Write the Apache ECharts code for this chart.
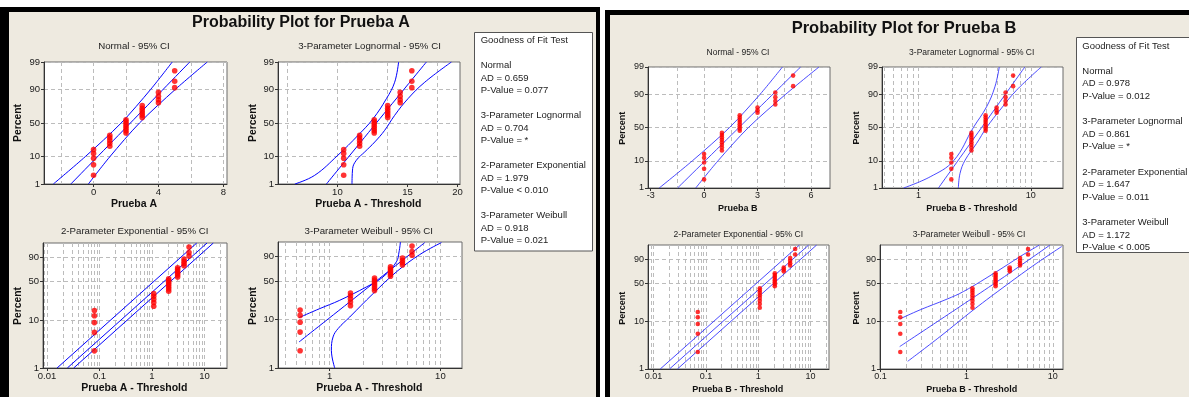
<!DOCTYPE html>
<html><head><meta charset="utf-8">
<script src="https://cdn.jsdelivr.net/npm/echarts@6/dist/echarts.min.js"></script>
<style>
html,body{margin:0;padding:0;background:#fff;}
#wrap{position:relative;width:1189px;height:397px;overflow:hidden;background:#fff;}
.frame{position:absolute;background:#000;}
.inner{position:absolute;background:#eeeae0;}
#chart{position:absolute;left:0;top:0;width:1189px;height:397px;}
</style></head>
<body>
<div id="wrap">
 <div class="frame" style="left:0;top:7px;width:600px;height:400px"></div>
 <div class="inner" style="left:9px;top:12px;width:587px;height:400px"></div>
 <div class="frame" style="left:605px;top:10px;width:600px;height:400px"></div>
 <div class="inner" style="left:610px;top:15px;width:600px;height:400px"></div>
 <div id="chart"></div>
</div>
<script>
// ---------------- data ----------------
const pruebaA = [0,0,0,0,0,1,1,1,1,1,2,2,2,2,2,2,2,3,3,3,3,3,3,4,4,4,4,5,5,5];
const pruebaB = [0,0,0,0,0,1,1,1,1,1,1,1,1,2,2,2,2,2,2,2,2,3,3,3,4,4,4,4,5,5];
// shifts of the "- Threshold" axes
const shiftA = {logn: 10.37, exp: 0.08, wbl: 0.54};
const shiftB = {logn: 1.96, exp: 0.07, wbl: 0.17};

const pctTicksNorm = [1,10,50,90,99];
const pctTicksExp = [1,10,50,90];

const xLabNormA = [0,4,8],  xGridNormA = [-2,0,2,4,6,8];
const xLabNormB = [-3,0,3,6], xGridNormB = [-1.5,0,1.5,3,4.5,6];
const xLabLognA = [10,15,20], xGridLognA = [7.499,10,13.335,17.783];
const xLabLognB = [1,10];
const xLabExp = [0.01,0.1,1,10];
const xLabWblA = [1,10];
const xLabWblB = [0.1,1,10];

// fitted lines and 95% CI curves: [x, percent]
const normA_fit = [[-1.40,1],[2.27,50],[5.93,99]];
const normA_lo  = [[-2.48,1],[-0.51,10],[1.70,50],[3.52,90],[4.85,99]];
const normA_hi  = [[-0.32,1],[1.01,10],[2.83,50],[5.04,90],[7.01,99]];
const lognA_fit = [[9.385,1],[12.52,50],[16.72,99]];
const lognA_lo  = [[7.82,1],[8.77,2.3],[10.03,11],[11.27,32],[12.29,56.5],[13.27,82.3],[13.92,94],[14.24,99]];
const lognA_hi  = [[10.88,1],[10.92,4.1],[11.16,7.8],[11.71,13.5],[12.41,23.5],[13.14,39],[13.92,61.5],[15.03,82.3],[16.56,94],[19.32,99]];
const expA_fit  = [[0.0244,1],[11.18,99]];
const expA_lo   = [[0.01555,1],[7.12,99]];
const expA_hi   = [[0.0322,1],[14.75,99]];
const wblA_fit  = [[0.528,3.5],[7.22,98.85]];
const wblA_lo   = [[0.528,11.0],[0.812,16.5],[1.231,23.7],[2.144,40.4],[3.03,56.9],[4.00,82.6],[4.23,94.2],[4.35,99]];
const wblA_hi   = [[1.11,1],[1.035,2.35],[1.072,4.45],[1.19,6.6],[1.516,11.3],[2.464,31.2],[4.00,65.9],[6.51,91.8],[10.2,98.85]];

const normB_fit = [[-1.49,1],[1.96,50],[5.42,99]];
const normB_lo  = [[-2.52,1],[-0.66,10],[1.43,50],[3.15,90],[4.40,99]];
const normB_hi  = [[-0.47,1],[0.78,10],[2.49,50],[4.59,90],[6.45,99]];
const lognB_fit = [[1.505,1],[3.65,50],[8.85,99]];
const lognB_lo  = [[0.736,1],[1.27,2.9],[2.05,10],[3.08,50],[4.04,78.7],[4.79,94.1],[5.24,99]];
const lognB_hi  = [[2.265,1],[2.34,3.8],[2.60,10.5],[3.29,27],[4.04,50],[5.31,74.8],[7.46,92.4],[12.4,99]];
const expB_fit  = [[0.0201,1],[9.2,99]];
const expB_lo   = [[0.0134,1],[6.14,99]];
const expB_hi   = [[0.0285,1],[13.05,99]];
const wblB_fit  = [[0.1675,3.0],[2.188,51.5],[9.31,99]];
const wblB_lo   = [[0.1675,11.2],[0.290,17.1],[0.592,27.2],[0.923,37.1],[2.244,71.2],[4.18,92.6],[7.01,99]];
const wblB_hi   = [[0.2075,1.46],[0.495,4.9],[1.205,17.1],[2.93,47.5],[6.53,84.7],[12.7,98.6]];

const gofA = ['Goodness of Fit Test','','Normal','AD = 0.659','P-Value = 0.077','','3-Parameter Lognormal','AD = 0.704','P-Value = *','','2-Parameter Exponential','AD = 1.979','P-Value < 0.010','','3-Parameter Weibull','AD = 0.918','P-Value = 0.021'];
const gofB = ['Goodness of Fit Test','','Normal','AD = 0.978','P-Value = 0.012','','3-Parameter Lognormal','AD = 0.861','P-Value = *','','2-Parameter Exponential','AD = 1.647','P-Value = 0.011','','3-Parameter Weibull','AD = 1.172','P-Value < 0.005'];

// ---------------- helpers ----------------
function invNorm(p){
 const a=[-3.969683028665376e+01,2.209460984245205e+02,-2.759285104469687e+02,1.383577518672690e+02,-3.066479806614716e+01,2.506628277459239e+00];
 const b=[-5.447609879822406e+01,1.615858368580409e+02,-1.556989798598866e+02,6.680131188771972e+01,-1.328068155288572e+01];
 const c=[-7.784894002430293e-03,-3.223964580411365e-01,-2.400758277161838e+00,-2.549671010243283e+00,4.374664141464968e+00,2.938163982698783e+00];
 const d=[7.784695709041462e-03,3.224671290700398e-01,2.445134137142996e+00,3.754408661907416e+00];
 const pl=0.02425; let q,r;
 if(p<pl){q=Math.sqrt(-2*Math.log(p));return (((((c[0]*q+c[1])*q+c[2])*q+c[3])*q+c[4])*q+c[5])/((((d[0]*q+d[1])*q+d[2])*q+d[3])*q+1);}
 if(p<=1-pl){q=p-0.5;r=q*q;return (((((a[0]*r+a[1])*r+a[2])*r+a[3])*r+a[4])*r+a[5])*q/(((((b[0]*r+b[1])*r+b[2])*r+b[3])*r+b[4])*r+1);}
 q=Math.sqrt(-2*Math.log(1-p));return -(((((c[0]*q+c[1])*q+c[2])*q+c[3])*q+c[4])*q+c[5])/((((d[0]*q+d[1])*q+d[2])*q+d[3])*q+1);
}
function decades(lo,hi){const out=[];for(let k=-3;k<=2;k++)for(let m=1;m<=9;m++){const v=+(m*Math.pow(10,k)).toPrecision(6);if(v>=lo&&v<=hi)out.push(v);}return out;}

const FF = 'Liberation Sans, Arial, sans-serif';
const plots = [
 {g:[44,62,183,122], xlog:false, xr:[-3.055,8.225], xg:xGridNormA, xl:xLabNormA, yk:'norm', data:pruebaA, off:0, lines:[normA_lo,normA_fit,normA_hi], sm:0.3,
  title:'Normal - 95% CI', tp:[134,46.7], xn:'Prueba A', xnp:[134,204], pp:[18.3,123], big:true},
 {g:[278,62,182,122], xlog:true, xr:[7.096,20.30], xg:xGridLognA, xl:xLabLognA, yk:'norm', data:pruebaA, off:shiftA.logn, lines:[lognA_lo,lognA_fit,lognA_hi], sm:0.4,
  title:'3-Parameter Lognormal - 95% CI', tp:[369.5,46.7], xn:'Prueba A - Threshold', xnp:[368.3,204], pp:[253.3,123], big:true},
 {g:[43,243,184,125], xlog:true, xr:[0.00839,26.85], xg:decades(0.00839,26.85), xl:xLabExp, yk:'wbl', data:pruebaA, off:shiftA.exp, lines:[expA_lo,expA_fit,expA_hi], sm:0,
  title:'2-Parameter Exponential - 95% CI', tp:[134.7,231.7], xn:'Prueba A - Threshold', xnp:[134.3,388.3], pp:[18.3,306], big:true},
 {g:[278,242,184,126], xlog:true, xr:[0.341,15.67], xg:decades(0.341,15.67), xl:xLabWblA, yk:'wbl', data:pruebaA, off:shiftA.wbl, lines:[wblA_lo,wblA_fit,wblA_hi], sm:0.4,
  title:'3-Parameter Weibull - 95% CI', tp:[368.8,231], xn:'Prueba A - Threshold', xnp:[369.3,387.7], pp:[253.3,306], big:true},
 {g:[648,67,182,121], xlog:false, xr:[-3.15,7.07], xg:xGridNormB, xl:xLabNormB, yk:'norm', data:pruebaB, off:0, lines:[normB_lo,normB_fit,normB_hi], sm:0.3,
  title:'Normal - 95% CI', tp:[738,52.7], xn:'Prueba B', xnp:[737.7,208.3], pp:[622.7,128.3], big:false},
 {g:[882,67,181,121], xlog:true, xr:[0.473,19.36], xg:decades(0.473,19.36), xl:xLabLognB, yk:'norm', data:pruebaB, off:shiftB.logn, lines:[lognB_lo,lognB_fit,lognB_hi], sm:0.4,
  title:'3-Parameter Lognormal - 95% CI', tp:[971.7,52.7], xn:'Prueba B - Threshold', xnp:[971.7,208.3], pp:[856.7,128], big:false},
 {g:[648,245,181,124], xlog:true, xr:[0.00782,22.49], xg:decades(0.00782,22.49), xl:xLabExp, yk:'wbl', data:pruebaB, off:shiftB.exp, lines:[expB_lo,expB_fit,expB_hi], sm:0,
  title:'2-Parameter Exponential - 95% CI', tp:[738.3,235], xn:'Prueba B - Threshold', xnp:[737.7,390], pp:[622.7,308.3], big:false},
 {g:[880,245,183,124], xlog:true, xr:[0.0989,13.15], xg:decades(0.0989,13.15), xl:xLabWblB, yk:'wbl', data:pruebaB, off:shiftB.wbl, lines:[wblB_lo,wblB_fit,wblB_hi], sm:0.4,
  title:'3-Parameter Weibull - 95% CI', tp:[969,235], xn:'Prueba B - Threshold', xnp:[971.7,390], pp:[856.7,308], big:false}
];

const option = {animation:false, backgroundColor:'transparent', textStyle:{fontFamily:FF}, grid:[], xAxis:[], yAxis:[], series:[], graphic:[]};
const gridLine = {show:true, lineStyle:{color:'#bcbcbc', type:[4,3], width:1}};
const axLine = {show:true, onZero:false, lineStyle:{color:'#333', width:1}};

function txt(text,x,y,size,bold,color,rot){
 option.graphic.push({type:'text', x:x, y:y, rotation:rot||0, z:100,
  style:{text:text, fontSize:size, fontWeight:bold?'bold':'normal', fontFamily:FF, fill:color||'#111',
   textAlign:'center', textVerticalAlign:'middle', align:'center', verticalAlign:'middle'}});
}

plots.forEach((p,i)=>{
 const [l,t,w,h] = p.g;
 const xf = p.xlog ? (v=>Math.log10(v)) : (v=>v);
 const yf = p.yk==='norm' ? (q=>invNorm(q/100)) : (q=>Math.log(-Math.log(1-q/100)));
 const fs = p.big ? 9.5 : 9;
 option.grid.push({left:l, top:t, width:w, height:h, show:true, backgroundColor:'#fff', borderColor:'#6a6a6a', borderWidth:1, containLabel:false, outerBoundsMode:'none'});
 const xmin = xf(p.xr[0]), xmax = xf(p.xr[1]);
 const xlv = p.xl.map(xf);
 // axis for the grid lines
 option.xAxis.push({gridIndex:i, type:'value', min:xmin, max:xmax, position:'bottom',
  axisLine:axLine, axisTick:{show:false, customValues:p.xg.map(xf)}, axisLabel:{show:false}, splitLine:gridLine});
 // axis for the labels
 option.xAxis.push({gridIndex:i, type:'value', min:xmin, max:xmax, position:'bottom',
  axisLine:{show:false, onZero:false}, axisTick:{show:true, customValues:xlv, length:3, lineStyle:{color:'#333'}},
  axisLabel:{show:true, customValues:xlv, margin:3, fontSize:fs, color:'#1a1a1a', fontFamily:FF, hideOverlap:false,
   formatter:(v)=>{let bi=0,bd=1e9;xlv.forEach((u,k)=>{const d=Math.abs(u-v);if(d<bd){bd=d;bi=k;}});return String(p.xl[bi]);}},
  splitLine:{show:false}});
 const pt = p.yk==='norm' ? pctTicksNorm : pctTicksExp;
 const ytv = pt.map(yf);
 option.yAxis.push({gridIndex:i, type:'value', min:yf(1), max:yf(99),
  axisLine:axLine, axisTick:{show:true, customValues:ytv, length:3, lineStyle:{color:'#333'}},
  axisLabel:{show:true, customValues:ytv, margin:4, fontSize:fs, color:'#1a1a1a', fontFamily:FF,
   formatter:(v)=>{let bi=0,bd=1e9;ytv.forEach((u,k)=>{const d=Math.abs(u-v);if(d<bd){bd=d;bi=k;}});return String(pt[bi]);}},
  splitLine:gridLine});
 // points with median-rank plotting positions
 const n = p.data.length;
 const sorted = p.data.slice().sort((a,b)=>a-b);
 const pts = sorted.map((v,k)=>[xf(v+p.off), yf((k+1-0.3)/(n+0.4)*100)]);
 p.lines.forEach(arr=>{
  option.series.push({type:'line', xAxisIndex:2*i, yAxisIndex:i, data:arr.map(([x,q])=>[xf(x),yf(q)]),
   symbol:'none', smooth:p.sm||false, clip:true, silent:true, z:2,
   lineStyle:{color:p.big?'#0000ff':'#3535ff', width:p.big?1:0.9}});
 });
 option.series.push({type:'scatter', xAxisIndex:2*i, yAxisIndex:i, data:pts, symbol:'circle', symbolSize:p.big?5.6:4.6,
  itemStyle:{color:'#ff0000'}, silent:true, z:3, clip:false});
 txt(p.title, p.tp[0], p.tp[1], p.big?9.7:8.5, false, '#222');
 txt(p.xn, p.xnp[0], p.xnp[1], p.big?10.5:9, true, '#111');
 txt('Percent', p.pp[0], p.pp[1], p.big?10.3:9, true, '#111', Math.PI/2);
});

// main titles
txt('Probability Plot for Prueba A', 301, 23, 16, true, '#111');
txt('Probability Plot for Prueba B', 904, 28, 16.5, true, '#111');

// goodness of fit boxes
function gofBox(lines,x,y,w,h,tx,ty,step){
 option.graphic.push({type:'rect', shape:{x:x,y:y,width:w,height:h}, z:90, style:{fill:'#fff', stroke:'#555', lineWidth:1}});
 lines.forEach((s,k)=>{ if(!s) return;
  option.graphic.push({type:'text', x:tx, y:ty+k*step, z:100,
   style:{text:s, fontSize:9.5, fontFamily:FF, fill:'#222', textAlign:'left', textVerticalAlign:'middle', align:'left', verticalAlign:'middle'}});
 });
}
gofBox(gofA, 474.5, 32.5, 118, 218.5, 480.7, 40.7, 12.5);
gofBox(gofB, 1076.5, 37.5, 130, 215, 1082.3, 46, 12.6);

const chart = echarts.init(document.getElementById('chart'), null, {renderer:'canvas'});
chart.setOption(option);
</script>
</body></html>
